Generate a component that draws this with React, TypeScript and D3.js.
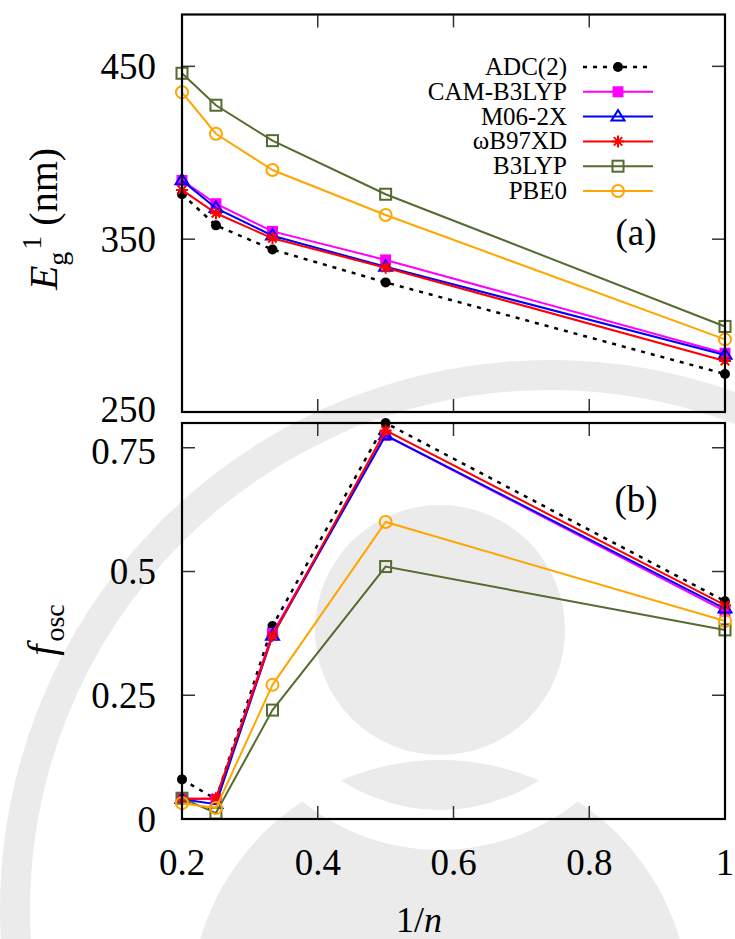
import { useRef, useEffect } from 'react'
import * as d3 from 'd3'

// 1/n for n = 5, 4, 3, 2, 1
const invN = [0.2, 0.25, 0.3333, 0.5, 1]

const seriesNames = ['ADC(2)', 'CAM-B3LYP', 'M06-2X', 'ωB97XD', 'B3LYP', 'PBE0']

// panel (a): lowest excitation wavelength (nm)
const egAdc = [376, 358, 344, 325, 272]
const egCam = [384, 370.5, 354.5, 338, 284]
const egM06 = [384, 368, 352, 334, 283]
const egWb97 = [378.5, 365, 350.5, 333.5, 279.5]
const egB3lyp = [446, 427.5, 407, 376, 299.5]
const egPbe0 = [435, 411, 390, 364, 292]

// panel (b): oscillator strength
const fAdc = [0.08, 0.04, 0.39, 0.8, 0.44]
const fCam = [0.042, 0.04, 0.375, 0.775, 0.42]
const fM06 = [0.04, 0.03, 0.37, 0.775, 0.425]
const fWb97 = [0.04, 0.042, 0.37, 0.785, 0.432]
const fB3lyp = [0.042, 0.012, 0.22, 0.51, 0.382]
const fPbe0 = [0.032, 0.022, 0.271, 0.6, 0.4]

const xTicks = [0.2, 0.4, 0.6, 0.8, 1]
const egTicks = [250, 350, 450]
const fTicks = [0, 0.25, 0.5, 0.75]

const styles = [
  { color: '#000000', marker: 'dot', dash: '4,6' },
  { color: '#ff00ff', marker: 'fsquare', dash: null },
  { color: '#0000ff', marker: 'triangle', dash: null },
  { color: '#ff0000', marker: 'star', dash: null },
  { color: '#556b2f', marker: 'square', dash: null },
  { color: '#ffa500', marker: 'circle', dash: null },
]

const FONT = 'Liberation Serif, DejaVu Serif, serif'

type G = d3.Selection<SVGGElement, unknown, null, undefined>

function drawMarker(g: G, kind: string, color: string, cx: number, cy: number) {
  if (kind === 'dot') {
    g.append('circle').attr('cx', cx).attr('cy', cy).attr('r', 5).attr('fill', color)
  } else if (kind === 'fsquare') {
    g.append('rect').attr('x', cx - 5.5).attr('y', cy - 5.5).attr('width', 11).attr('height', 11).attr('fill', color)
  } else if (kind === 'square') {
    g.append('rect').attr('x', cx - 5.5).attr('y', cy - 5.5).attr('width', 11).attr('height', 11)
      .attr('fill', 'none').attr('stroke', color).attr('stroke-width', 2)
  } else if (kind === 'circle') {
    g.append('circle').attr('cx', cx).attr('cy', cy).attr('r', 6)
      .attr('fill', 'none').attr('stroke', color).attr('stroke-width', 2)
  } else if (kind === 'triangle') {
    const s = 6.5
    g.append('path')
      .attr('d', `M${cx},${cy - s}L${cx + s},${cy + s * 0.6}L${cx - s},${cy + s * 0.6}Z`)
      .attr('fill', 'none').attr('stroke', color).attr('stroke-width', 2)
  } else if (kind === 'star') {
    const s = 6
    const d = [0, 45, 90, 135].map((a) => {
      const r = (a * Math.PI) / 180
      return `M${cx - s * Math.cos(r)},${cy - s * Math.sin(r)}L${cx + s * Math.cos(r)},${cy + s * Math.sin(r)}`
    }).join('')
    g.append('path').attr('d', d).attr('stroke', color).attr('stroke-width', 2)
  }
}

export default function App() {
  const ref = useRef<SVGSVGElement>(null)

  useEffect(() => {
    if (!ref.current) return
    const svg = d3.select(ref.current)
    svg.selectAll('*').remove()

    const left = 182
    const right = 725
    const x = d3.scaleLinear().domain([0.2, 1]).range([left, right])
    const yA = d3.scaleLinear().domain([250, 480]).range([412, 14.5])
    const yB = d3.scaleLinear().domain([0, 0.8]).range([819, 423])

    // faint watermark shapes in background
    const wm = svg.append('g').attr('fill', 'none').attr('stroke', '#ebebeb')
    wm.append('circle').attr('cx', 440).attr('cy', 1010).attr('r', 250).attr('fill', '#ebebeb').attr('stroke', 'none')
    wm.append('circle').attr('cx', 550).attr('cy', 910).attr('r', 535).attr('stroke-width', 30)
    wm.append('circle').attr('cx', 440).attr('cy', 630).attr('r', 125).attr('fill', '#ebebeb').attr('stroke', 'none')
    wm.append('circle').attr('cx', 440).attr('cy', 630).attr('r', 200).attr('stroke', '#fff').attr('stroke-width', 40)

    const panels = [
      { y: yA, ticks: egTicks, data: [egAdc, egCam, egM06, egWb97, egB3lyp, egPbe0] },
      { y: yB, ticks: fTicks, data: [fAdc, fCam, fM06, fWb97, fB3lyp, fPbe0] },
    ]

    panels.forEach((p, pi) => {
      const g = svg.append('g')
      const [y0, y1] = p.y.range()

      // series
      p.data.forEach((vals, si) => {
        const st = styles[si]
        const line = d3.line<number>().x((_, i) => x(invN[i])).y((v) => p.y(v))
        g.append('path')
          .attr('d', line(vals))
          .attr('fill', 'none')
          .attr('stroke', st.color)
          .attr('stroke-width', si === 0 ? 2.5 : 2)
          .attr('stroke-dasharray', st.dash)
        vals.forEach((v, i) => drawMarker(g, st.marker, st.color, x(invN[i]), p.y(v)))
      })

      // ticks (mirrored, inward)
      const tk = g.append('g').attr('stroke', '#333').attr('stroke-width', 1.5)
      xTicks.forEach((t) => {
        tk.append('line').attr('x1', x(t)).attr('x2', x(t)).attr('y1', y0).attr('y2', y0 - 13)
        tk.append('line').attr('x1', x(t)).attr('x2', x(t)).attr('y1', y1).attr('y2', y1 + 13)
      })
      p.ticks.forEach((t) => {
        tk.append('line').attr('x1', left).attr('x2', left + 13).attr('y1', p.y(t)).attr('y2', p.y(t))
        tk.append('line').attr('x1', right).attr('x2', right - 13).attr('y1', p.y(t)).attr('y2', p.y(t))
        const shift = t === 250 ? -3 : t === 0.75 ? 3 : 0
        g.append('text')
          .attr('x', 156)
          .attr('y', p.y(t) + shift)
          .attr('dy', '0.35em')
          .attr('text-anchor', 'end')
          .attr('font-family', FONT)
          .attr('font-size', 37)
          .text(String(t))
      })

      // frame
      g.append('rect')
        .attr('x', left)
        .attr('y', y1)
        .attr('width', right - left)
        .attr('height', y0 - y1)
        .attr('fill', 'none')
        .attr('stroke', '#000')
        .attr('stroke-width', 2.2)

      g.append('text')
        .attr('x', 636)
        .attr('y', pi === 0 ? 245 : 512)
        .attr('text-anchor', 'middle')
        .attr('font-family', FONT)
        .attr('font-size', 37)
        .text(pi === 0 ? '(a)' : '(b)')
    })

    // x tick labels
    xTicks.forEach((t) => {
      svg.append('text')
        .attr('x', x(t))
        .attr('y', 875)
        .attr('text-anchor', 'middle')
        .attr('font-family', FONT)
        .attr('font-size', 37)
        .text(String(t))
    })

    // x label
    const xl = svg.append('text')
      .attr('x', 419)
      .attr('y', 932)
      .attr('text-anchor', 'middle')
      .attr('font-family', FONT)
      .attr('font-size', 36)
    xl.append('tspan').text('1/')
    xl.append('tspan').attr('font-style', 'italic').text('n')

    // y label (a)
    const ya = svg.append('text')
      .attr('transform', 'translate(57,219) rotate(-90)')
      .attr('text-anchor', 'middle')
      .attr('font-family', FONT)
      .attr('font-size', 40)
    ya.append('tspan').attr('font-style', 'italic').text('E')
    ya.append('tspan').attr('font-size', 28).attr('dy', 10).text('g')
    ya.append('tspan').attr('font-size', 28).attr('dy', -26).attr('dx', 2).text('1')
    ya.append('tspan').attr('dy', 16).text(' (nm)')

    // y label (b)
    const yb = svg.append('text')
      .attr('transform', 'translate(55,630) rotate(-90)')
      .attr('text-anchor', 'middle')
      .attr('font-family', FONT)
      .attr('font-size', 40)
    yb.append('tspan').attr('font-style', 'italic').text('f')
    yb.append('tspan').attr('font-size', 28).attr('dy', 9).attr('dx', 3).text('osc')

    // legend
    const lg = svg.append('g')
    seriesNames.forEach((name, i) => {
      const cy = 67 + i * 24.8
      const st = styles[i]
      lg.append('text')
        .attr('x', 567)
        .attr('y', cy + 8)
        .attr('text-anchor', 'end')
        .attr('font-family', FONT)
        .attr('font-size', 25)
        .text(name)
      lg.append('line')
        .attr('x1', 583)
        .attr('x2', 653)
        .attr('y1', cy)
        .attr('y2', cy)
        .attr('stroke', st.color)
        .attr('stroke-width', i === 0 ? 2.5 : 2)
        .attr('stroke-dasharray', st.dash)
      drawMarker(lg as unknown as G, st.marker, st.color, 618, cy)
    })
  }, [])

  return (
    <svg
      ref={ref}
      width={735}
      height={939}
      style={{ position: 'absolute', left: 0, top: 0, background: '#fff' }}
    />
  )
}
